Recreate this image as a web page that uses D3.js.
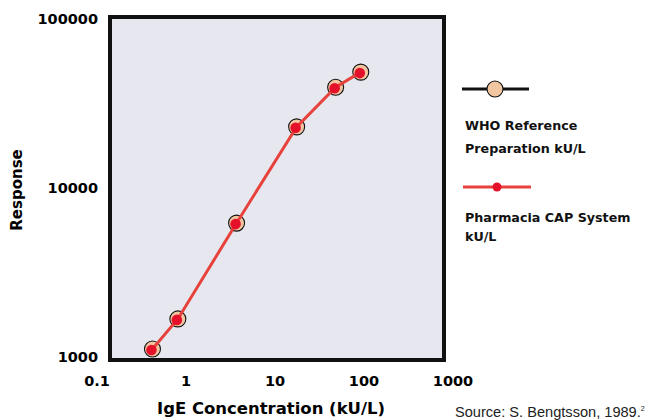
<!DOCTYPE html>
<html>
<head>
<meta charset="utf-8">
<script src="https://cdn.jsdelivr.net/npm/d3@7"></script>
<style>
  body { margin: 0; background: #fff; }
  text { font-family: "Liberation Sans", Arial, sans-serif; }
  .bold { font-family: "DejaVu Sans", sans-serif; font-weight: bold; }
</style>
</head>
<body>
<div id="chart"></div>
<script>
// data
const concentration = [0.42, 0.81, 3.7, 17.5, 48, 92];
const whoResponse   = [1115, 1680, 6200, 23000, 39500, 48500];
const capResponse   = [1115, 1680, 6200, 23000, 39500, 48500];
const xTicks = [0.1, 1, 10, 100, 1000];
const yTicks = [1000, 10000, 100000];

const width = 647, height = 420;

const svg = d3.select("#chart").append("svg")
  .attr("width", width)
  .attr("height", height);

// scales (tick labels sit a bit outside the frame in the original)
const x = d3.scaleLog().domain([0.1, 1000]).range([97, 453]);
const y = d3.scaleLog().domain([1000, 100000]).range([357, 19]);

// plot frame
svg.append("rect")
  .attr("x", 110).attr("y", 17)
  .attr("width", 334).attr("height", 343)
  .attr("fill", "#e7e7f0")
  .attr("stroke", "#111")
  .attr("stroke-width", 4);

// tick labels
svg.append("g").selectAll("text")
  .data(xTicks)
  .join("text")
  .attr("class", "bold")
  .attr("x", d => x(d))
  .attr("y", 386)
  .attr("text-anchor", "middle")
  .attr("font-size", 14.5)
  .text(d => d3.format("")(d));

svg.append("g").selectAll("text")
  .data(yTicks)
  .join("text")
  .attr("class", "bold")
  .attr("x", 98)
  .attr("y", d => y(d))
  .attr("dy", "0.36em")
  .attr("text-anchor", "end")
  .attr("font-size", 14.5)
  .text(d => d);

// axis titles
svg.append("text")
  .attr("class", "bold")
  .attr("x", 271).attr("y", 414)
  .attr("text-anchor", "middle")
  .attr("font-size", 16)
  .attr("textLength", 228)
  .attr("lengthAdjust", "spacingAndGlyphs")
  .text("IgE Concentration (kU/L)");

svg.append("text")
  .attr("class", "bold")
  .attr("transform", "translate(22,190) rotate(-90)")
  .attr("text-anchor", "middle")
  .attr("font-size", 15)
  .text("Response");

// source note
const src = svg.append("text")
  .attr("x", 455).attr("y", 417)
  .attr("font-size", 14.6)
  .attr("fill", "#222");
src.append("tspan").text("Source: S. Bengtsson, 1989.");
src.append("tspan").attr("font-size", 7).attr("dy", -6).text("2");

// series
const who = concentration.map((c, i) => ({x: c, y: whoResponse[i]}));
const cap = concentration.map((c, i) => ({x: c, y: capResponse[i]}));

const line = d3.line().x(d => x(d.x)).y(d => y(d.y));

svg.append("path")
  .datum(who)
  .attr("d", line)
  .attr("fill", "none")
  .attr("stroke", "#222")
  .attr("stroke-width", 1.5);

svg.append("g").selectAll("circle")
  .data(who)
  .join("circle")
  .attr("cx", d => x(d.x))
  .attr("cy", d => y(d.y))
  .attr("r", 8)
  .attr("fill", "#f1c6a0")
  .attr("stroke", "#111")
  .attr("stroke-width", 1.1);

svg.append("path")
  .datum(cap)
  .attr("d", line)
  .attr("fill", "none")
  .attr("stroke", "#e8423c")
  .attr("stroke-width", 3);

svg.append("g").selectAll("circle")
  .data(cap)
  .join("circle")
  .attr("cx", d => x(d.x) - 1)
  .attr("cy", d => y(d.y) + 1)
  .attr("r", 5.3)
  .attr("fill", "#e5112b");

// legend
const legend = svg.append("g");

legend.append("line")
  .attr("x1", 462).attr("x2", 529)
  .attr("y1", 89).attr("y2", 89)
  .attr("stroke", "#111")
  .attr("stroke-width", 3);
legend.append("circle")
  .attr("cx", 495).attr("cy", 89).attr("r", 8)
  .attr("fill", "#f1c6a0")
  .attr("stroke", "#111")
  .attr("stroke-width", 1.1);

legend.append("line")
  .attr("x1", 463).attr("x2", 531)
  .attr("y1", 187).attr("y2", 187)
  .attr("stroke", "#e8423c")
  .attr("stroke-width", 3);
legend.append("circle")
  .attr("cx", 497).attr("cy", 187).attr("r", 4.5)
  .attr("fill", "#e5112b");

const legendLabels = [
  {y: 130, t: "WHO Reference"},
  {y: 153, t: "Preparation kU/L"},
  {y: 222, t: "Pharmacia CAP System"},
  {y: 241, t: "kU/L"}
];
legend.selectAll("text.lab")
  .data(legendLabels)
  .join("text")
  .attr("class", "bold lab")
  .attr("x", 465)
  .attr("y", d => d.y)
  .attr("font-size", 12.7)
  .attr("fill", "#111")
  .text(d => d.t);
</script>
</body>
</html>
